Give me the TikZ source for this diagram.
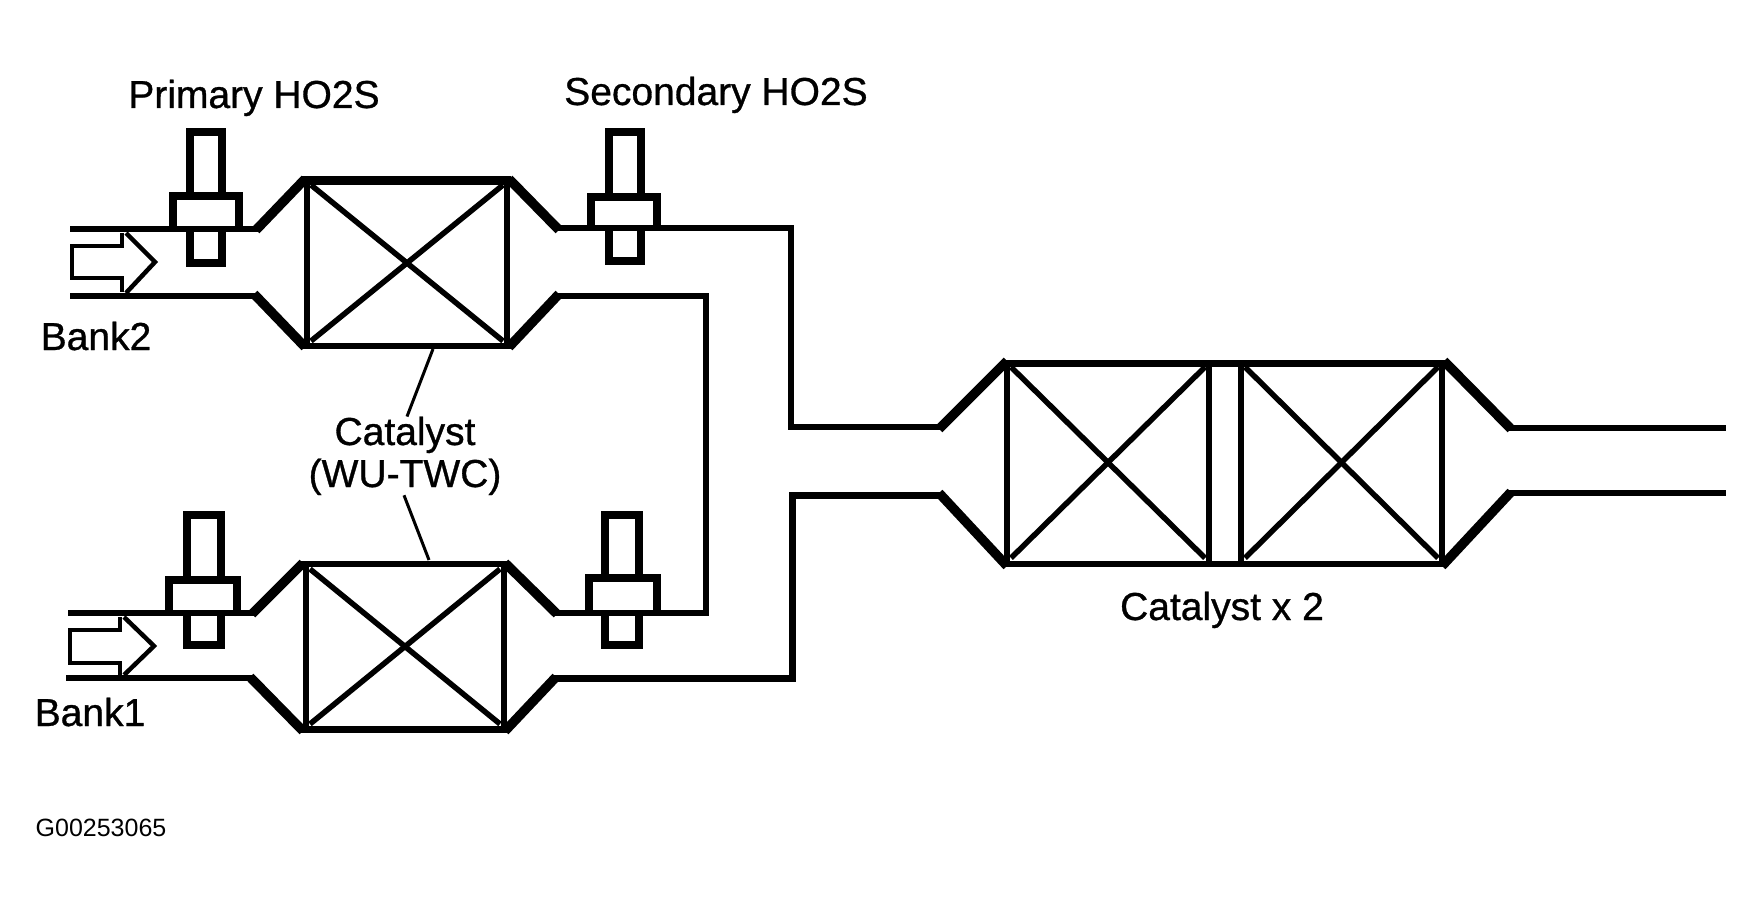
\documentclass[tikz,border=0pt]{standalone}
\usepackage{fontspec}
\setmainfont{Liberation Sans}
\newfontfamily\heavyface{Liberation Sans}[FakeBold=0.8]
\tikzset{
  pipe/.style={line width=6.5pt,line join=round,line cap=butt},
  cone/.style={line width=9.5pt,line cap=butt},
  wall/.style={line width=6.5pt},
  diag/.style={line width=5.5pt},
  sensor/.style={line width=7.5pt,line join=miter},
  tiparrow/.style={line width=4.5pt,line join=miter},
  leader/.style={line width=3pt},
  lbl/.style={inner sep=0pt,anchor=base,font=\heavyface\fontsize{39}{39}\selectfont},
  code/.style={inner sep=0pt,anchor=base,font=\fontsize{25}{25}\selectfont}
}
\newcommand{\catbox}[4]{%
  \draw[diag] (#1+4,#3+4) -- (#2-4,#4-4);
  \draw[diag] (#1+4,#4-4) -- (#2-4,#3+4);
  \draw[wall] (#1,#3) -- (#1,#4);
  \draw[wall] (#2,#3) -- (#2,#4);
}
\newcommand{\probe}[7]{%
  \draw[sensor] (#2,#5) -- (#2,#4) -- (#3,#4) -- (#3,#5);
  \draw[sensor] (#2,#7) -- (#2,#6) -- (#3,#6) -- (#3,#7);
  \draw[sensor] (#1,#7) -- (#1,#5) -- (#1+#3-#2+34,#5) -- (#1+#3-#2+34,#7);
}
\begin{document}
\begin{tikzpicture}[x=1pt,y=-1pt]
\useasboundingbox (0,0) rectangle (1764,912);
\fill[white] (0,0) rectangle (1764,912);

% upper warm-up catalyst
\catbox{307}{507}{181}{345}
\draw[pipe] (70,229) -- (260,229);
\draw[pipe] (70,296) -- (258,296);
\draw[cone] (256,230) -- (305,179);
\draw[cone] (254,294) -- (305,347);
\draw[line width=9pt] (302,181) -- (511,181);
\draw[line width=6.5pt] (302,346) -- (511,346);
\draw[cone] (509,179) -- (559,230);
\draw[cone] (509,347) -- (559,294);

% lower warm-up catalyst
\catbox{306}{504}{565}{728}
\draw[pipe] (68,613) -- (256,613);
\draw[pipe] (66,678) -- (254,678);
\draw[cone] (252,614) -- (303,563);
\draw[cone] (250,677) -- (303,731);
\draw[line width=6.5pt] (300,564) -- (508,564);
\draw[line width=7pt] (300,729) -- (508,729);
\draw[cone] (505,563) -- (557,614);
\draw[cone] (505,731) -- (556,677);

% connecting pipes
\draw[pipe,line join=miter] (555,228) -- (791,228) -- (791,427) -- (943,427);
\draw[pipe,line join=miter] (555,296) -- (706,296) -- (706,613) -- (553,613);
\draw[pipe,line width=7pt,line join=miter] (552,678) -- (792,678) -- (792,495) -- (943,495);

% main catalyst
\catbox{1007}{1209}{363}{562}
\catbox{1241}{1442}{363}{562}
\draw[line width=7pt] (1003,363) -- (1447,363);
\draw[line width=6.5pt] (1003,564) -- (1445,564);
\draw[cone] (939,429) -- (1007,361);
\draw[cone] (939,493) -- (1007,566);
\draw[cone] (1444,361) -- (1511,429);
\draw[cone] (1442,566) -- (1511,492);
\draw[pipe] (1507,428) -- (1726,428);
\draw[pipe] (1507,493) -- (1726,493);

% oxygen sensors
\probe{173}{190}{222}{132}{196}{263}{229}
\probe{591}{609}{641}{132}{197}{261}{228}
\probe{169}{187}{221}{515}{580}{645}{613}
\probe{589}{605}{639}{515}{578}{645}{613}

% flow arrows
\draw[tiparrow] (122,233) -- (122,246) -- (72,246) -- (72,278) -- (122,278) -- (122,292);
\draw[tiparrow] (126,233) -- (155,262) -- (126,293);
\draw[tiparrow] (120,617) -- (120,630) -- (70,630) -- (70,663) -- (120,663) -- (120,675);
\draw[tiparrow] (124,617) -- (154,646) -- (124,675);

% labels
\node[lbl] (primary) at (254,108) {Primary HO2S};
\node[lbl] (secondary) at (716,105) {Secondary HO2S};
\node[lbl] (bank2) at (96,350) {Bank2};
\node[lbl] (bank1) at (90,726) {Bank1};
\node[lbl] (cat1) at (405,445) {Catalyst};
\node[lbl] (cat2) at (405,487) {(WU-TWC)};
\node[lbl] (catx) at (1222,620) {Catalyst x 2};
\node[code] (gcode) at (101,836) {G00253065};

% leaders
\coordinate (ltop) at (433,349);
\coordinate (lbot) at (429,560);
\draw[leader] (ltop) -- (cat1.north -| 407,412);
\draw[leader] (cat2.south -| 404,500) -- (lbot);
\end{tikzpicture}
\end{document}
